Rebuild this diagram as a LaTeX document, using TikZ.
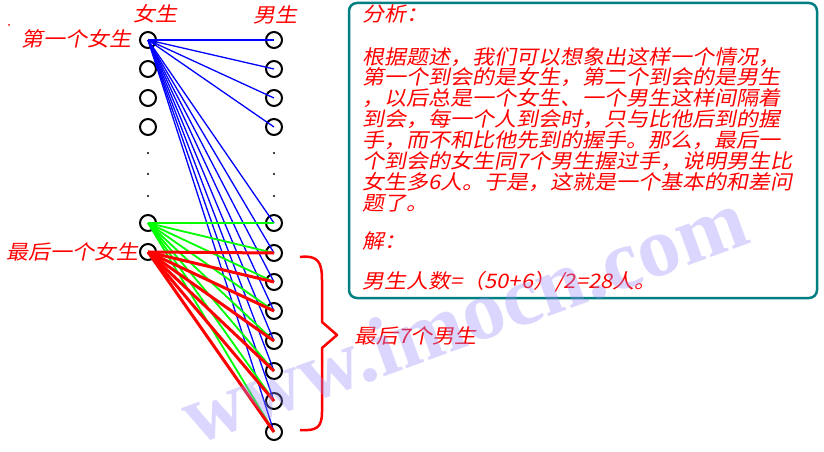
\documentclass[tikz,border=0pt]{standalone}
\usepackage{fontspec}
\newfontfamily\cjk[FakeSlant=0.2,FakeStretch=1.1]{Noto Sans CJK SC}
\newfontfamily\wmfont{Liberation Serif}
\definecolor{teal2}{RGB}{0,128,128}
\definecolor{wmark}{RGB}{150,140,250}
\definecolor{lgreen}{RGB}{0,255,0}
\tikzset{
  person/.style={circle,draw=black,line width=2pt,minimum size=16pt,inner sep=0pt},
  vdot/.style={circle,fill=black,minimum size=2.2pt,inner sep=0pt},
  lbl/.style={text=red,font=\cjk\fontsize{20}{20}\selectfont,inner sep=0pt},
  boxline/.style={lbl,anchor=west},
  bl/.style={blue,line width=1.3pt},
  gl/.style={lgreen,line width=1.8pt},
  rl/.style={red,line width=3pt},
}
\begin{document}
\begin{tikzpicture}[x=1pt,y=-1pt]
\useasboundingbox (0,0) rectangle (824,452);
\fill[white] (0,0) rectangle (824,452);

% girls column
\node[person] (g1) at (148,40) {};
\node[person] (g2) at (148,69) {};
\node[person] (g3) at (148,98) {};
\node[person] (g4) at (148,127) {};
\node[vdot] (gd1) at (148,153) {};
\node[vdot] (gd2) at (148,174) {};
\node[vdot] (gd3) at (148,196) {};
\node[person] (g5) at (148,223) {};
\node[person] (g6) at (148,252) {};

% boys column
\node[person] (m1) at (274,40) {};
\node[person] (m2) at (274,69) {};
\node[person] (m3) at (274,98) {};
\node[person] (m4) at (274,127) {};
\node[vdot] (md1) at (274,153) {};
\node[vdot] (md2) at (274,174) {};
\node[vdot] (md3) at (274,196) {};
\node[person] (m5) at (274,223) {};
\node[person] (m6) at (274,253) {};
\node[person] (m7) at (274,282) {};
\node[person] (m8) at (274,311) {};
\node[person] (m9) at (274,341) {};
\node[person] (m10) at (274,371) {};
\node[person] (m11) at (274,401) {};
\node[person] (m12) at (274,432) {};

% labels
\node[lbl] (tg) at (155,14) {女生};
\node[lbl] (tb) at (275,15) {男生};
\node[lbl,anchor=east] (first) at (132,39) {第一个女生};
\node[lbl,anchor=east] (last) at (139,252) {最后一个女生};
\node[circle,fill=red,minimum size=2pt,inner sep=0pt] (rdot) at (9,25) {};

% blue lines
\foreach \m in {1,...,12} \draw[bl] (g1.center) -- (m\m.center);
% green lines
\foreach \m in {5,...,12} \draw[gl] (g5.center) -- (m\m.center);
% red lines
\foreach \m in {6,...,12} \draw[rl] (g6.center) -- (m\m.center);

% brace
\draw[red,line width=2.5pt,line join=round] (300,257) .. controls (318,255) and (322,262) .. (322,280) -- (322,322) -- (337,335) -- (322,348) -- (322,412) .. controls (322,428) and (316,431) .. (300,430);
\node[lbl,anchor=west] (seven) at (354,336) {最后7个男生};

% explanation box
\draw[teal2,line width=2.5pt,rounded corners=8pt] (349,3) rectangle (817,298);
\node[boxline] (t0) at (362,14) {分析：};
\node[boxline] (t1) at (362,57) {根据题述，我们可以想象出这样一个情况，};
\node[boxline] (t2) at (362,77) {第一个到会的是女生，第二个到会的是男生};
\node[boxline] (t3) at (362,98) {，以后总是一个女生、一个男生这样间隔着};
\node[boxline] (t4) at (362,119) {到会，每一个人到会时，只与比他后到的握};
\node[boxline] (t5) at (362,140) {手，而不和比他先到的握手。那么，最后一};
\node[boxline] (t6) at (362,161) {个到会的女生同7个男生握过手，说明男生比};
\node[boxline] (t7) at (362,182) {女生多6人。于是，这就是一个基本的和差问};
\node[boxline] (t8) at (362,203) {题了。};
\node[boxline] (t9) at (362,241) {解：};
\node[boxline] (t10) at (362,282) {男生人数=（50+6）/2=28人。};

% watermark
\node[anchor=base west,rotate=20,text=wmark,opacity=0.35,inner sep=0pt,font=\wmfont\bfseries\fontsize{85}{85}\selectfont] (wm) at (194,446) {www.imocn.com};
\end{tikzpicture}
\end{document}
